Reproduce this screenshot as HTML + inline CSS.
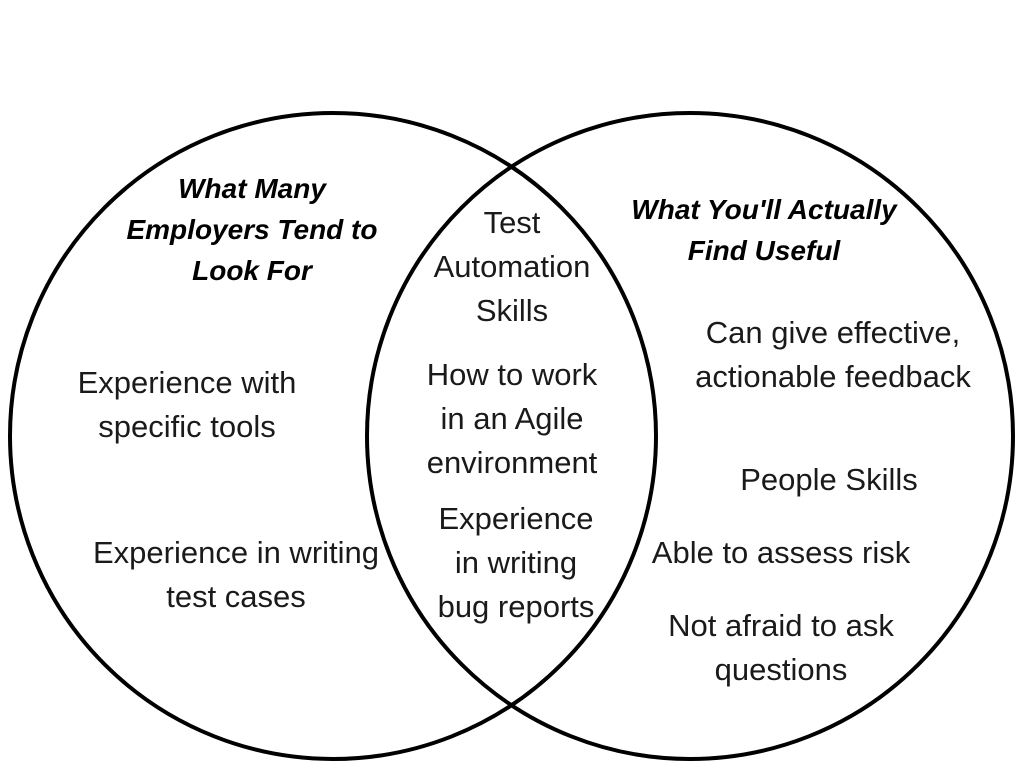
<!DOCTYPE html>
<html><head><meta charset="utf-8"><style>
body{margin:0;width:1024px;height:768px;background:#fff;position:relative;overflow:hidden;font-family:"Liberation Sans",sans-serif;color:#1a1a1a}
.t{position:absolute;width:400px;text-align:center;font-size:31px;line-height:44px;white-space:nowrap;font-weight:300}
.h{position:absolute;width:400px;text-align:center;font-size:28px;line-height:41px;font-weight:bold;font-style:italic;white-space:nowrap;color:#000}
</style></head><body>
<svg width="1024" height="768" style="position:absolute;left:0;top:0">
<circle cx="333" cy="436" r="323" fill="none" stroke="#000" stroke-width="4"/>
<circle cx="690" cy="436" r="323" fill="none" stroke="#000" stroke-width="4"/>
</svg>
<div class="h" style="left:52px;top:168px">What Many<br>Employers Tend to<br>Look For</div>
<div class="h" style="left:564px;top:189px">What You'll Actually<br>Find Useful</div>
<div class="t" style="left:-13px;top:361px">Experience with<br>specific tools</div>
<div class="t" style="left:36px;top:531px">Experience in writing<br>test cases</div>
<div class="t" style="left:312px;top:201px">Test<br>Automation<br>Skills</div>
<div class="t" style="left:312px;top:353px">How to work<br>in an Agile<br>environment</div>
<div class="t" style="left:316px;top:497px">Experience<br>in writing<br>bug reports</div>
<div class="t" style="left:633px;top:311px">Can give effective,<br>actionable feedback</div>
<div class="t" style="left:629px;top:458px">People Skills</div>
<div class="t" style="left:581px;top:531px">Able to assess risk</div>
<div class="t" style="left:581px;top:604px">Not afraid to ask<br>questions</div>
</body></html>
